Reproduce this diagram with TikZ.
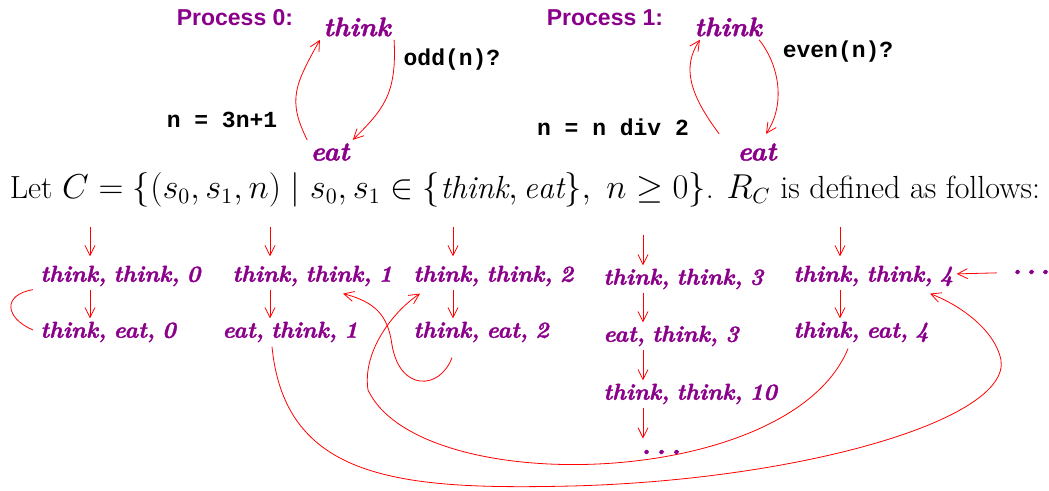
\documentclass[tikz,border=0pt]{standalone}
\usepackage{fontspec}
\usetikzlibrary{arrows.meta}
\newfontfamily\procfont{Liberation Sans}
\newfontfamily\codefont{Liberation Mono}
\newfontfamily\stfont{lmroman10-bolditalic.otf}[FakeBold=1.5, WordSpace=0.75]
\definecolor{statecol}{RGB}{139,0,139}
\begin{document}
\begin{tikzpicture}[x=0.5pt, y=-0.5pt,
  >={Straight Barb[length=5pt,width=5pt]},
  every path/.style={red},
  st/.style={text=statecol, font=\stfont\fontsize{11.5}{13}\selectfont, inner sep=1.5pt, anchor=west},
  top/.style={text=statecol, font=\stfont\fontsize{13.4}{15}\selectfont, inner sep=1.5pt},
  dots/.style={text=statecol, font=\stfont\fontsize{14}{15}\selectfont, inner sep=1.5pt},
  proc/.style={text=statecol, font=\procfont\bfseries\fontsize{11.5}{13}\selectfont},
  code/.style={text=black, font=\codefont\bfseries\fontsize{11.5}{13}\selectfont}]
\useasboundingbox (0,0) rectangle (1049,491);
\node[proc] (p0) at (235,18) {Process 0:};
\node[top] (th0) at (357,27) {think};
\node[top] (ea0) at (330,152) {eat};
\node[code] (c0) at (452,60) {odd(n)?};
\node[code] (u0) at (222,120) {n = 3n+1};
\draw[->] (ea0.north west) .. controls +(-20,-40) and +(-25,45) .. (th0.south west);
\draw[->] (th0.south east) .. controls +(3,55) and +(30,-30) .. (ea0.north east);
\node[proc] (p1) at (605,18) {Process 1:};
\node[top] (th1) at (728,27) {think};
\node[top] (ea1) at (757,152) {eat};
\node[code] (c1) at (838,52) {even(n)?};
\node[code] (u1) at (613,127) {n = n div 2};
\draw[->] ([shift={(-15,-6)}]ea1.north west) .. controls +(-30,-40) and +(-18,27) .. ([shift={(9,0)}]th1.south west);
\draw[->] ([shift={(-6,0)}]th1.south east) .. controls +(20,25) and +(20,-30) .. ([shift={(9,-6)}]ea1.north);
\node[text=black, font=\fontsize{16}{19}\selectfont] (let) at (525,190) {Let $C=\{(s_0,s_1,n)\mid s_0,s_1\in\{\mathit{think},\mathit{eat}\},\ n\geq 0\}$. $R_C$ is defined as follows:};
\node[st] (tt0) at (37,276) {think, think, 0};
\node[st] (te0) at (37,332) {think, eat, 0};
\node[st] (tt1) at (229,276) {think, think, 1};
\node[st] (et1) at (219,332) {eat, think, 1};
\node[st] (tt2) at (410,276) {think, think, 2};
\node[st] (te2) at (410,332) {think, eat, 2};
\node[st] (tt3) at (600,279) {think, think, 3};
\node[st] (et3) at (600,336) {eat, think, 3};
\node[st] (tt10) at (600,394) {think, think, 10};
\node[dots] (dd) at (661,452) {.\hspace{2.5pt}.\hspace{2.5pt}.};
\node[st] (tt4) at (790,276) {think, think, 4};
\node[st] (te4) at (790,332) {think, eat, 4};
\node[dots] (rd) at (1031,272) {.\hspace{2pt}.\hspace{2pt}.};
\coordinate (a0) at (90,227);
\coordinate (a1) at (270,227);
\coordinate (a2) at (453,227);
\coordinate (a3) at (643,235);
\coordinate (a4) at (840,227);
\draw[->, shorten >=3pt] (a0) -- (a0 |- tt0.north);
\draw[->] (a0 |- tt0.south) -- (a0 |- te0.north);
\draw[->, shorten >=3pt] (a1) -- (a1 |- tt1.north);
\draw[->] (a1 |- tt1.south) -- (a1 |- et1.north);
\draw[->, shorten >=3pt] (a2) -- (a2 |- tt2.north);
\draw[->] (a2 |- tt2.south) -- (a2 |- te2.north);
\draw[->] (a3) -- (a3 |- tt3.north);
\draw[->] (a3 |- tt3.south) -- (a3 |- et3.north);
\draw[->] (a3 |- et3.south) -- (a3 |- tt10.north);
\draw[->, shorten >=4pt] (a3 |- tt10.south) -- (a3 |- dd.north);
\draw[->, shorten >=3pt] (a4) -- (a4 |- tt4.north);
\draw[->] (a4 |- tt4.south) -- (a4 |- te4.north);
\draw[->, shorten <=6pt] (rd) -- (tt4);
\draw ([shift={(-4,0)}]tt0.south west) .. controls (2,295) and (5,318) .. ([shift={(-4,-2)}]te0.west);
\draw[->] ([shift={(42,12)}]te2.south west) .. controls (440,390) and (400,392) .. (392,345) .. controls (388,315) and (375,302) .. ([shift={(114,4)}]tt1.south west);
\draw[->] ([shift={(58,3)}]te4.south west) .. controls (790,490) and (420,500) .. (368,390) .. controls (362,350) and (395,310) .. ([shift={(10,4)}]tt2.south west);
\draw[->] ([shift={(53,1)}]et1.south west) .. controls (285,480) and (400,490) .. (572,486) .. controls (800,480) and (1010,420) .. (1001,360) .. controls (995,330) and (960,305) .. ([shift={(140,4)}]tt4.south west);
\end{tikzpicture}
\end{document}
